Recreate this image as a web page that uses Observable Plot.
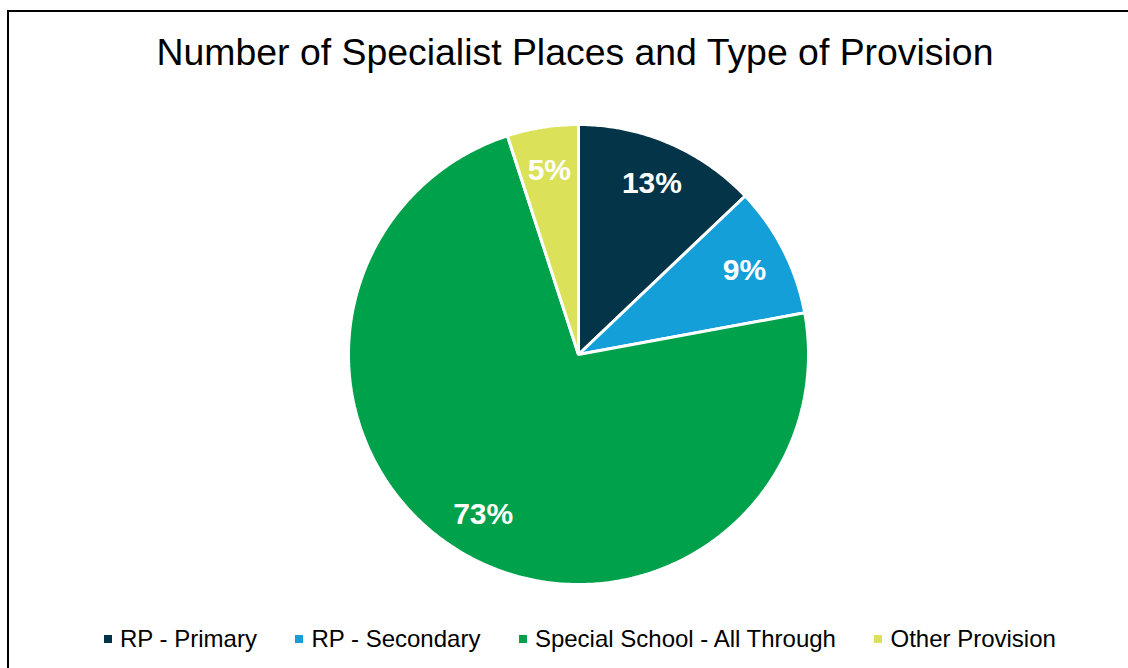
<!DOCTYPE html>
<html>
<head>
<meta charset="utf-8">
<script src="https://cdn.jsdelivr.net/npm/d3@7"></script>
<script src="https://cdn.jsdelivr.net/npm/@observablehq/plot@0.6"></script>
<style>
  html, body { margin: 0; padding: 0; background: #fff; }
  body { width: 1128px; height: 668px; position: relative; overflow: hidden; font-family: "Liberation Sans", Arial, sans-serif; }
  #frame { position: absolute; left: 7px; top: 10px; width: 1200px; height: 800px; border-left: 2px solid #000; border-top: 2px solid #000; box-sizing: border-box; }
  #title { position: absolute; left: 0; width: 1150px; top: 34px; text-align: center; font-size: 37.4px; line-height: 37px; color: #000; white-space: nowrap; }
  #chart { position: absolute; left: 0; top: 100px; }
  #legend { position: absolute; left: 104px; top: 626px; display: flex; align-items: center; font-size: 24px; line-height: 26px; color: #000; white-space: nowrap; }
  .item { display: flex; align-items: center; margin-right: 38.5px; }
  .sw { width: 8px; height: 8px; margin-right: 8px; }
</style>
</head>
<body>
<div id="frame"></div>
<div id="title">Number of Specialist Places and Type of Provision</div>
<div id="chart"></div>
<div id="legend"></div>
<script>
const categories = ["RP - Primary", "RP - Secondary", "Special School - All Through", "Other Provision"];
const shares = [12.9, 9.2, 72.9, 5.0];
const colors = ["#043447", "#149fd9", "#00a14b", "#dbe25a"];

// Build slice polygons (unit circle, clockwise from 12 o'clock)
const total = d3.sum(shares);
const slices = [];
const labelRows = [];
let acc = 0;
categories.forEach((cat, i) => {
  const a0 = acc / total * 2 * Math.PI;
  acc += shares[i];
  const a1 = acc / total * 2 * Math.PI;
  slices.push({cat, x: 0, y: 0});
  const n = Math.max(2, Math.ceil((a1 - a0) / 0.01));
  for (let k = 0; k <= n; k++) {
    const a = a0 + (a1 - a0) * k / n;
    slices.push({cat, x: Math.sin(a), y: Math.cos(a)});
  }
  const am = (a0 + a1) / 2;
  labelRows.push({cat, x: 0.81 * Math.sin(am), y: 0.81 * Math.cos(am), text: Math.round(shares[i] / total * 100) + "%"});
});

const W = 1128, H = 510;
const plot = Plot.plot({
  width: W, height: H,
  marginLeft: 348, marginRight: 320, marginTop: 24, marginBottom: 26,
  x: {domain: [-1, 1], axis: null},
  y: {domain: [-1, 1], axis: null},
  color: {domain: categories, range: colors},
  style: {background: "transparent", overflow: "visible"},
  marks: [
    Plot.line(slices, {x: "x", y: "y", z: "cat", fill: "cat", stroke: "white", strokeWidth: 3, strokeLinejoin: "miter", curve: "linear-closed"}),
    Plot.text(labelRows, {x: "x", y: "y", text: "text", fill: "white", fontSize: 30, fontWeight: "bold", fontFamily: "Liberation Sans, Arial, sans-serif"})
  ]
});
document.getElementById("chart").appendChild(plot);

const legend = document.getElementById("legend");
categories.forEach((cat, i) => {
  const it = document.createElement("div");
  it.className = "item";
  const sw = document.createElement("span");
  sw.className = "sw";
  sw.style.background = colors[i];
  const t = document.createElement("span");
  t.textContent = cat;
  it.appendChild(sw); it.appendChild(t);
  legend.appendChild(it);
});
</script>
</body>
</html>
